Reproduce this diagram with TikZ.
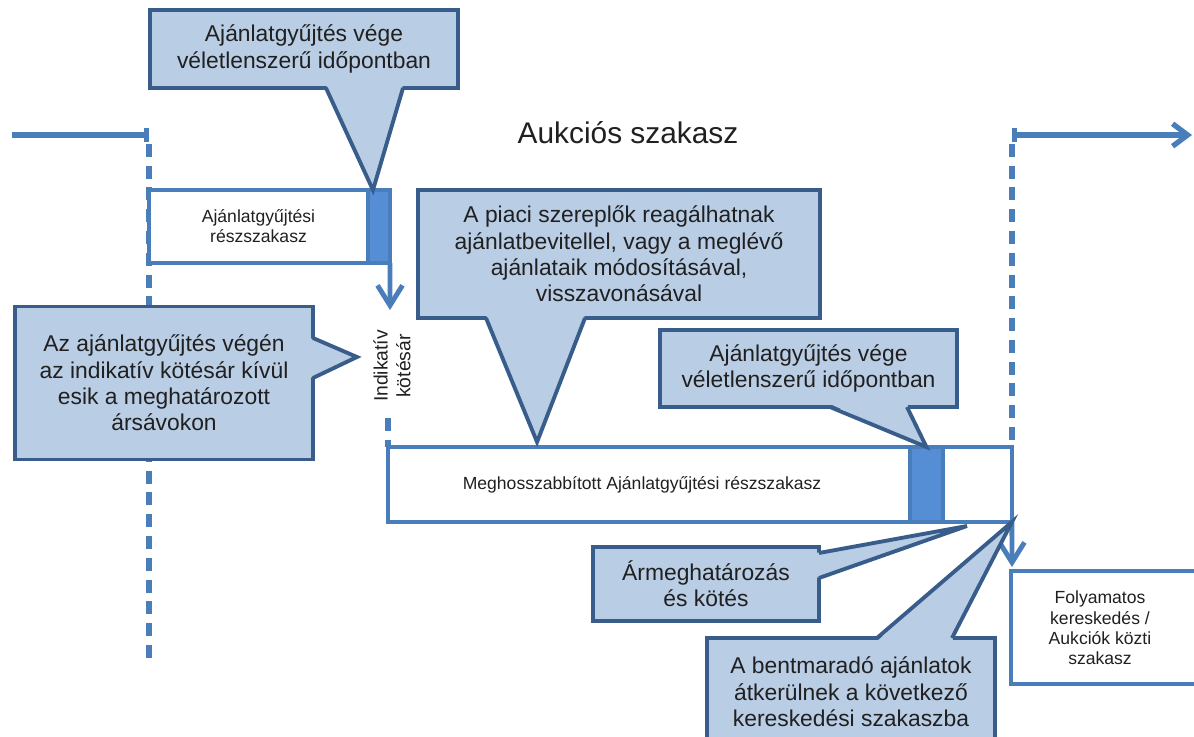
\documentclass[tikz,border=0pt]{standalone}
\usepackage{fontspec}
\setmainfont{Liberation Sans}
\usetikzlibrary{calc,arrows.meta}
\definecolor{calloutfill}{RGB}{185,205,229}
\definecolor{calloutline}{RGB}{56,93,138}
\definecolor{lineblue}{RGB}{74,126,187}
\definecolor{markblue}{RGB}{85,142,213}
\definecolor{textgray}{RGB}{32,32,32}
\tikzset{
	callout/.style={draw=calloutline, fill=calloutfill, line width=2.2pt, outer sep=0pt, inner sep=0pt,
			align=center, text=textgray, font=\fontsize{13}{15}\selectfont},
	beak/.style={draw=calloutline, line width=2.2pt, line join=miter},
	stagebox/.style={draw=lineblue, fill=white, line width=2.3pt, outer sep=0pt, inner sep=0pt,
			align=center, text=textgray, font=\fontsize{10}{11.5}\selectfont},
	markbox/.style={draw=lineblue, fill=markblue, line width=2.3pt, outer sep=0pt, inner sep=0pt},
	guide/.style={draw=lineblue, line width=3pt, dash pattern=on 7.4pt off 5pt},
	timeline/.style={draw=lineblue, line width=3pt},
	downarrow/.style={draw=lineblue, line width=2.8pt, -{Straight Barb[length=0.4cm, width=0.5cm]}}
}

\begin{document}
\begin{tikzpicture}[x=0.02cm, y=-0.02cm]
	\useasboundingbox (0,0) rectangle (1194,737);
	\clip (0,0) rectangle (1194,737);

	% time axis
	\coordinate (lbar) at (149,135);
	\coordinate (rbar) at (1012,135);
	\draw[timeline, -{Bar[width=0.28cm]}] (12,135) -- (lbar);
	\draw[timeline, {Bar[width=0.28cm]}-{Straight Barb[length=0.3cm, width=0.45cm]}] (rbar) -- (1192,135);
	\node[font=\fontsize{17}{20}\selectfont, text=textgray] (aukcio) at (628,133) {Aukciós szakasz};

	\draw[guide, dash phase=7.4pt] (lbar) -- (149,665);
	\draw[guide, dash phase=7.4pt] (rbar) -- (1012,447);
	\draw[guide] (388,418) -- (388,447);

	% phases
	\node[stagebox, minimum width=4.38cm, minimum height=1.46cm] (gyujt) at (258.5,226.5) {Ajánlatgyűjtési\\részszakasz};
	\node[markbox, minimum width=0.44cm, minimum height=1.46cm, anchor=west] (mark1) at (gyujt.east) {};
	\node[stagebox, minimum width=10.44cm, minimum height=1.5cm] (megh) at (649,484.5) {Meghosszabbított Ajánlatgyűjtési részszakasz\hspace*{0.28cm}};
	\node[markbox, minimum width=0.66cm, minimum height=1.5cm, anchor=west] (mark2) at (megh.east) {};
	\node[stagebox, minimum width=1.38cm, minimum height=1.5cm, anchor=west] (maradek) at (mark2.east) {};

	\draw[stagebox] (1230,571) -| (1011,684) -- (1230,684);
	\node[align=center, text=textgray, font=\fontsize{10}{11.5}\selectfont] (foly) at (1100,628) {Folyamatos\\kereskedés /\\Aukciók közti\\szakasz};

	\node[rotate=90, align=center, text=textgray, font=\fontsize{11}{13}\selectfont] (indik) at (392,366) {Indikatív\\kötésár};
	\coordinate (indikfej) at (390,310);
	\coordinate (folyfej) at (1012,567);
	\draw[downarrow] (mark1.south east) -- (indikfej);
	\draw[downarrow] (maradek.south east) -- (folyfej);

	% callouts
	\node[callout, minimum width=6.16cm, minimum height=1.56cm] (vege1) at (304,49) {Ajánlatgyűjtés vége\\véletlenszerű időpontban};
	\fill[calloutfill] ($(vege1.south)+(22,-3)$) -- ($(mark1.north west)+(5,0)$) -- ($(vege1.south)+(99,-3)$) -- cycle;
	\draw[beak] ($(vege1.south)+(22,0)$) -- ($(mark1.north west)+(5,0)$) -- ($(vege1.south)+(99,0)$);

	\node[callout, minimum width=8.04cm, minimum height=2.56cm] (piaci) at (619,254) {A piaci szereplők reagálhatnak\\ajánlatbevitellel, vagy a meglévő\\ajánlataik módosításával,\\visszavonásával};
	\fill[calloutfill] ($(piaci.south)+(-133,-3)$) -- ($(megh.north west)+(149,-5)$) -- ($(piaci.south)+(-34,-3)$) -- cycle;
	\draw[beak] ($(piaci.south)+(-133,0)$) -- ($(megh.north west)+(149,-5)$) -- ($(piaci.south)+(-34,0)$);

	\node[callout, minimum width=5.94cm, minimum height=1.54cm] (vege2) at (808.5,368.5) {Ajánlatgyűjtés vége\\véletlenszerű időpontban};
	\fill[calloutfill] ($(vege2.south)+(21.5,-3)$) -- (mark2.north) -- ($(vege2.south)+(98.5,-3)$) -- cycle;
	\draw[beak] ($(vege2.south)+(21.5,0)$) -- (mark2.north) -- ($(vege2.south)+(98.5,0)$);

	\node[callout, minimum width=5.96cm, minimum height=3.06cm] (kivul) at (164,383) {Az ajánlatgyűjtés végén\\az indikatív kötésár kívül\\esik a meghatározott\\ársávokon};
	\fill[calloutfill] ($(kivul.east)+(-3,-45)$) -- ($(kivul.east)+(44,-26)$) -- ($(kivul.east)+(-3,-5)$) -- cycle;
	\draw[beak] ($(kivul.east)+(0,-45)$) -- ($(kivul.east)+(44,-26)$) -- ($(kivul.east)+(0,-5)$);

	\node[callout, minimum width=4.52cm, minimum height=1.48cm] (armeg) at (706,584) {Ármeghatározás\\és kötés};
	\fill[calloutfill] ($(armeg.east)+(-3,-31)$) -- ($(mark2.south east)+(24,4)$) -- ($(armeg.east)+(-3,-6)$) -- cycle;
	\draw[beak] ($(armeg.east)+(0,-31)$) -- ($(mark2.south east)+(24,4)$) -- ($(armeg.east)+(0,-6)$);

	\node[callout, minimum width=5.76cm, minimum height=2.16cm] (bent) at (851,692) {A bentmaradó ajánlatok\\átkerülnek a következő\\kereskedési szakaszba};
	\fill[calloutfill] ($(bent.north)+(26,3)$) -- (maradek.south east) -- ($(bent.north)+(101,3)$) -- cycle;
	\draw[beak] ($(bent.north)+(26,0)$) -- (maradek.south east) -- ($(bent.north)+(101,0)$);
\end{tikzpicture}
\end{document}
